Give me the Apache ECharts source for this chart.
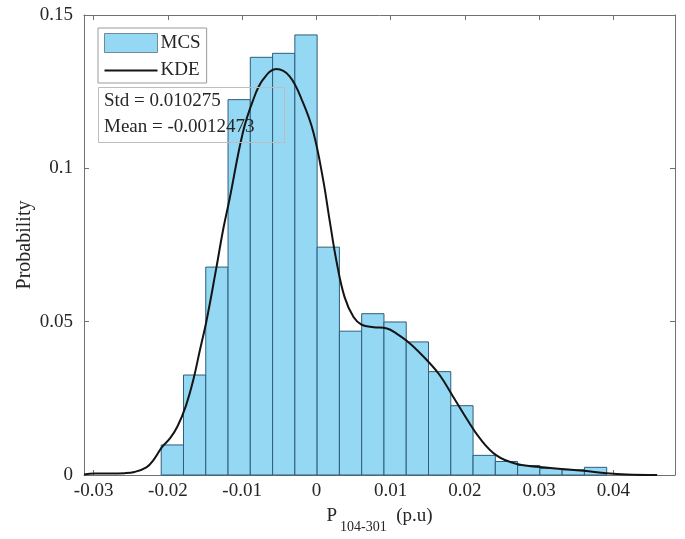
<!DOCTYPE html>
<html>
<head>
<meta charset="utf-8">
<script src="https://cdn.jsdelivr.net/npm/echarts@6/dist/echarts.min.js"></script>
<style>
  html, body { margin: 0; padding: 0; background: #fff; }
  #main { width: 685px; height: 539px; }
</style>
</head>
<body>
<div id="main"></div>
<script>
// histogram bin edges (21) and probability per bin (20)
const binEdges = [-0.0209, -0.0179, -0.0149, -0.0119, -0.0089, -0.0059, -0.0029, 0.0001,
    0.0031, 0.0061, 0.0091, 0.0121, 0.0151, 0.0181, 0.0211, 0.0241, 0.0271, 0.0301,
    0.0331, 0.0361, 0.0391];
const binProb = [0.0098, 0.0326, 0.0678, 0.1224, 0.1362, 0.1375, 0.1435, 0.0743,
    0.0469, 0.0526, 0.0499, 0.0434, 0.0337, 0.0226, 0.0064, 0.0044, 0.0031, 0.0021,
    0.0017, 0.0025];

// kernel density curve
const kdeX = [-0.0313, -0.0299, -0.0278, -0.0258, -0.0245, -0.0229, -0.0219, -0.0208,
    -0.0197, -0.0187, -0.0176, -0.0166, -0.0157, -0.0148, -0.0135, -0.0126, -0.0117,
    -0.0099, -0.0085, -0.0072, -0.0054, -0.0036, -0.0018, -0.0004, 0.0009, 0.0018,
    0.0027, 0.0038, 0.0050, 0.0061, 0.0077, 0.0095, 0.0108, 0.0126, 0.0149, 0.0166,
    0.0184, 0.0202, 0.0220, 0.0243, 0.0270, 0.0315, 0.0360, 0.0391, 0.0418, 0.0459];
const kdeY = [0.0002, 0.0005, 0.0005, 0.0006, 0.0010, 0.0025, 0.0050, 0.0091,
    0.0120, 0.0159, 0.0224, 0.0308, 0.0406, 0.0503, 0.0672, 0.0795, 0.0899,
    0.1117, 0.1224, 0.1289, 0.1324, 0.1300, 0.1214, 0.1117, 0.0964, 0.0828,
    0.0698, 0.0580, 0.0515, 0.0490, 0.0482, 0.0478, 0.0461, 0.0429, 0.0374, 0.0326,
    0.0256, 0.0185, 0.0120, 0.0063, 0.0036, 0.0023, 0.0014, 0.0006, 0.0002, 0.0000];

const xTicks = ['-0.03', '-0.02', '-0.01', '0', '0.01', '0.02', '0.03', '0.04'];
const yTicks = ['0', '0.05', '0.1', '0.15'];

const statsText = ['Std = 0.010275', 'Mean = -0.0012473'];

const font = 'Liberation Serif';
const axisColor = '#707070';
const textColor = '#262626';

const histData = binProb.map((p, i) => [binEdges[i], binEdges[i + 1], p]);
const kdeData = kdeX.map((x, i) => [x, kdeY[i]]);

function xLabel(v) {
    const s = xTicks.find(t => Math.abs(parseFloat(t) - v) < 1e-6);
    return s === undefined ? '' : s;
}
function yLabel(v) {
    const s = yTicks.find(t => Math.abs(parseFloat(t) - v) < 1e-6);
    return s === undefined ? '' : s;
}

const myChart = echarts.init(document.getElementById('main'));

const xBase = {
    type: 'value',
    min: -0.0313,
    max: 0.0483,
    minInterval: 0.01,
    maxInterval: 0.01,
    splitLine: { show: false },
    axisLine: { show: true, onZero: false, lineStyle: { color: axisColor, width: 1 } },
    axisTick: { show: true, inside: true, length: 5, lineStyle: { color: axisColor } }
};
const yBase = {
    type: 'value',
    min: 0,
    max: 0.15,
    interval: 0.05,
    splitLine: { show: false },
    axisLine: { show: true, onZero: false, lineStyle: { color: axisColor, width: 1 } },
    axisTick: { show: true, inside: true, length: 5, lineStyle: { color: axisColor } }
};

let option = {
    backgroundColor: '#fff',
    animation: false,
    textStyle: { fontFamily: font },
    grid: { left: 84, right: 10, top: 15, bottom: 62 },
    title: {
        text: statsText.join('\n'),
        left: 98,
        top: 87,
        padding: [1, 30, 3, 6],
        borderColor: '#bdbdbd',
        borderWidth: 1,
        textStyle: { fontFamily: font, fontSize: 19, fontWeight: 'normal', color: textColor, lineHeight: 26 }
    },
    legend: {
        orient: 'vertical',
        left: 98,
        top: 28,
        padding: [5, 6, 3, 6],
        itemWidth: 53,
        itemHeight: 19,
        itemGap: 8,
        backgroundColor: '#fff',
        borderColor: '#9a9a9a',
        borderWidth: 1,
        borderRadius: 0,
        textStyle: { fontFamily: font, fontSize: 19, color: textColor, padding: [0, 0, 0, -2] },
        data: [
            { name: 'MCS', icon: 'rect', itemStyle: { borderColor: '#6f8a9a', borderWidth: 1 } },
            { name: 'KDE', icon: 'path://M0,0 L53,0 L53,2 L0,2 Z', itemStyle: { color: '#141414', borderWidth: 0 } }
        ]
    },
    xAxis: [
        Object.assign({}, xBase, {
            position: 'bottom',
            name: '{a|P}{b|104-301}{a|  (p.u)}',
            nameLocation: 'middle',
            nameGap: 32,
            nameTextStyle: {
                rich: {
                    a: { fontFamily: font, fontSize: 19, color: textColor, verticalAlign: 'top', lineHeight: 19 },
                    b: { fontFamily: font, fontSize: 14, color: textColor, verticalAlign: 'top', lineHeight: 14, padding: [13, 0, 0, 3] }
                }
            },
            axisLabel: {
                show: true, margin: 7, fontFamily: font, fontSize: 19, color: textColor,
                showMinLabel: false, showMaxLabel: false, formatter: xLabel
            }
        }),
        Object.assign({}, xBase, { position: 'top', axisLabel: { show: false } })
    ],
    yAxis: [
        Object.assign({}, yBase, {
            position: 'left',
            name: 'Probability',
            nameLocation: 'middle',
            nameGap: 49,
            nameMoveOverlap: false,
            nameTextStyle: { fontFamily: font, fontSize: 20, color: textColor },
            axisLabel: { show: true, margin: 11, fontFamily: font, fontSize: 19, color: textColor, formatter: yLabel }
        }),
        Object.assign({}, yBase, { position: 'right', axisLabel: { show: false } })
    ],
    series: [
        {
            name: 'MCS',
            type: 'custom',
            xAxisIndex: 0,
            yAxisIndex: 0,
            itemStyle: { color: '#94d8f3', borderColor: '#2f5d7a', borderWidth: 1 },
            encode: { x: [0, 1], y: 2 },
            renderItem(params, api) {
                const p0 = api.coord([api.value(0), api.value(2)]);
                const p1 = api.coord([api.value(1), 0]);
                return {
                    type: 'rect',
                    shape: { x: p0[0], y: p0[1], width: p1[0] - p0[0], height: p1[1] - p0[1] },
                    style: api.style()
                };
            },
            data: histData,
            z: 2
        },
        {
            name: 'KDE',
            type: 'line',
            xAxisIndex: 0,
            yAxisIndex: 0,
            smooth: 0.4,
            symbol: 'none',
            lineStyle: { color: '#141414', width: 2 },
            itemStyle: { color: '#141414' },
            data: kdeData,
            z: 3
        }
    ]
};
option && myChart.setOption(option);
</script>
</body>
</html>
